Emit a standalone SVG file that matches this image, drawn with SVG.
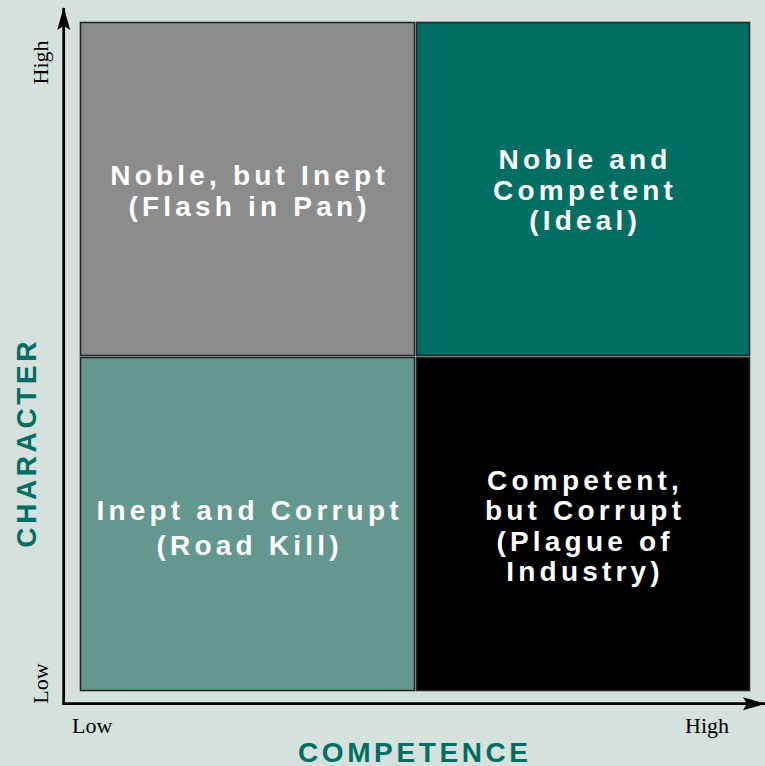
<svg xmlns="http://www.w3.org/2000/svg" width="765" height="766" viewBox="0 0 765 766">
  <style>
    .quad { stroke: #262626; stroke-width: 1.6; }
    .qtext { font-family: "Liberation Sans", Arial, sans-serif; font-weight: bold; font-size: 28px; letter-spacing: 4.2px; fill: #ffffff; text-anchor: middle; }
    .axis { stroke: #000000; stroke-width: 2.7; fill: none; }
    .tick { font-family: "Liberation Serif", "Times New Roman", serif; font-size: 22px; fill: #000000; }
    .title { font-family: "Liberation Sans", Arial, sans-serif; font-weight: bold; font-size: 28px; letter-spacing: 3.6px; fill: #006e62; text-anchor: middle; }
  </style>
  <defs>
    <marker id="arrow" markerUnits="userSpaceOnUse" markerWidth="24" markerHeight="14" refX="22" refY="7" orient="auto">
      <path d="M0,0.5 L23,7 L0,13.5 L4,7 Z" fill="#000000"/>
    </marker>
  </defs>

  <!-- background -->
  <rect x="0" y="0" width="765" height="766" fill="#d4e1dd"/>

  <!-- quadrant: high character, low competence -->
  <g id="noble-inept">
    <rect class="quad" x="80.5" y="22.5" width="334" height="333" fill="#8c8c8c"/>
    <text class="qtext" x="249.6" y="185">Noble, but Inept</text>
    <text class="qtext" x="249.6" y="216">(Flash in Pan)</text>
  </g>

  <!-- quadrant: high character, high competence -->
  <g id="noble-competent">
    <rect class="quad" x="416.5" y="22.5" width="333" height="333" fill="#016e63"/>
    <text class="qtext" x="585.1" y="169">Noble and</text>
    <text class="qtext" x="585.1" y="200">Competent</text>
    <text class="qtext" x="585.1" y="230">(Ideal)</text>
  </g>

  <!-- quadrant: low character, low competence -->
  <g id="inept-corrupt">
    <rect class="quad" x="80.5" y="357.5" width="334" height="333" fill="#64978e"/>
    <text class="qtext" x="249.6" y="520">Inept and Corrupt</text>
    <text class="qtext" x="249.6" y="555">(Road Kill)</text>
  </g>

  <!-- quadrant: low character, high competence -->
  <g id="competent-corrupt">
    <rect class="quad" x="416.5" y="357.5" width="333" height="333" fill="#000000"/>
    <text class="qtext" x="585.1" y="490">Competent,</text>
    <text class="qtext" x="585.1" y="520">but Corrupt</text>
    <text class="qtext" x="585.1" y="551">(Plague of</text>
    <text class="qtext" x="585.1" y="581">Industry)</text>
  </g>

  <!-- axes -->
  <g id="axes">
    <line class="axis" x1="63.7" y1="705" x2="63.7" y2="8" marker-end="url(#arrow)"/>
    <line class="axis" x1="62.4" y1="703.7" x2="765" y2="703.7" marker-end="url(#arrow)"/>
  </g>

  <!-- axis scale labels -->
  <g id="scale-labels">
    <text class="tick" transform="translate(47.5,62.5) rotate(-90)" text-anchor="middle">High</text>
    <text class="tick" transform="translate(47.5,683.5) rotate(-90)" text-anchor="middle">Low</text>
    <text class="tick" x="72" y="733">Low</text>
    <text class="tick" x="685" y="733">High</text>
  </g>

  <!-- axis titles -->
  <g id="axis-titles">
    <text class="title" transform="translate(36,442.8) rotate(-90)">CHARACTER</text>
    <text class="title" x="414.8" y="761.5">COMPETENCE</text>
  </g>
</svg>
